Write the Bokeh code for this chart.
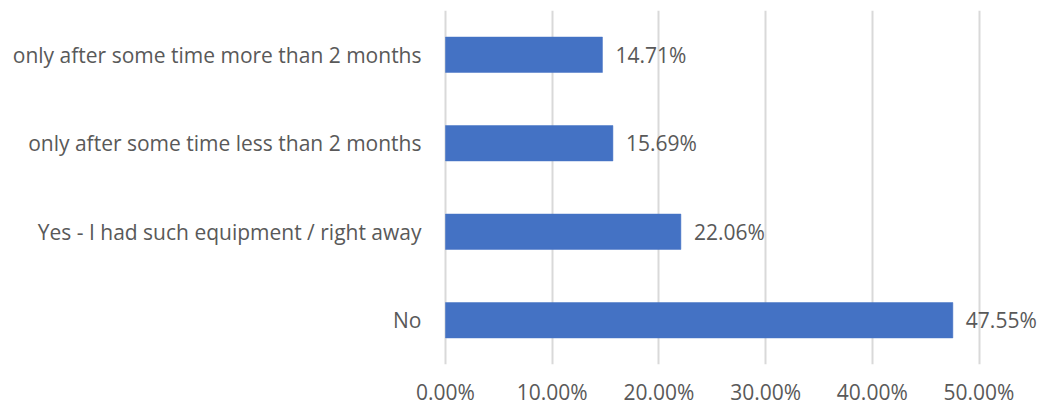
from bokeh.plotting import figure
from bokeh.models import ColumnDataSource, FactorRange, FixedTicker, LabelSet, CustomJSTickFormatter
from bokeh.core.properties import value
from bokeh.embed import file_html
from bokeh.resources import INLINE

categories = ["No", "Yes - I had such equipment / right away",
              "only after some time less than 2 months",
              "only after some time more than 2 months"]
values = [47.55, 22.06, 15.69, 14.71]
labels = ["47.55%", "22.06%", "15.69%", "14.71%"]
ticks = [0, 10, 20, 30, 40, 50]

FONT = "Open Sans"
FS = "21px"
TXT = "#595959"

src = ColumnDataSource(dict(cat=categories, val=values, lab=labels))

PX10 = 106.7  # pixels per 10%
left, right, top, bottom = 443, 1040, 10, 364
x_start = -(445 - left) / PX10 * 10
x_end = x_start + (right - left) / PX10 * 10

p = figure(width=1051, height=408, output_backend="svg", toolbar_location=None,
           y_range=FactorRange(*categories, range_padding=0),
           x_range=(x_start, x_end),
           min_border_left=left, min_border_right=1051 - right,
           min_border_top=top, min_border_bottom=408 - bottom)
p.outline_line_color = None
p.background_fill_color = "white"
p.border_fill_color = "white"

p.hbar(y="cat", right="val", left=0, height=0.4, source=src,
       fill_color="#4472C4", line_color="#4472C4", line_width=0.5)

p.add_layout(LabelSet(x="val", y="cat", text="lab", source=src, x_offset=13,
                      text_baseline="middle", text_font=value(FONT),
                      text_font_size=value(FS), text_color=value(TXT)))

p.xaxis.ticker = FixedTicker(ticks=ticks)
p.xaxis.formatter = CustomJSTickFormatter(code="return tick.toFixed(2) + '%';")
p.xaxis.axis_line_color = None
p.xaxis.major_tick_line_color = None
p.xaxis.minor_tick_line_color = None
p.xaxis.major_label_text_font = FONT
p.xaxis.major_label_text_font_size = FS
p.xaxis.major_label_text_color = TXT
p.xaxis.major_label_standoff = 7

p.yaxis.axis_line_color = None
p.yaxis.major_tick_line_color = None
p.yaxis.minor_tick_line_color = None
p.yaxis.major_label_text_font = FONT
p.yaxis.major_label_text_font_size = FS
p.yaxis.major_label_text_color = TXT
p.yaxis.major_label_standoff = 16

p.ygrid.grid_line_color = None
p.xgrid.grid_line_color = "#d9d9d9"
p.xgrid.grid_line_width = 2
p.xgrid.ticker = FixedTicker(ticks=ticks)

open("out.html", "w").write(file_html(p, INLINE))
